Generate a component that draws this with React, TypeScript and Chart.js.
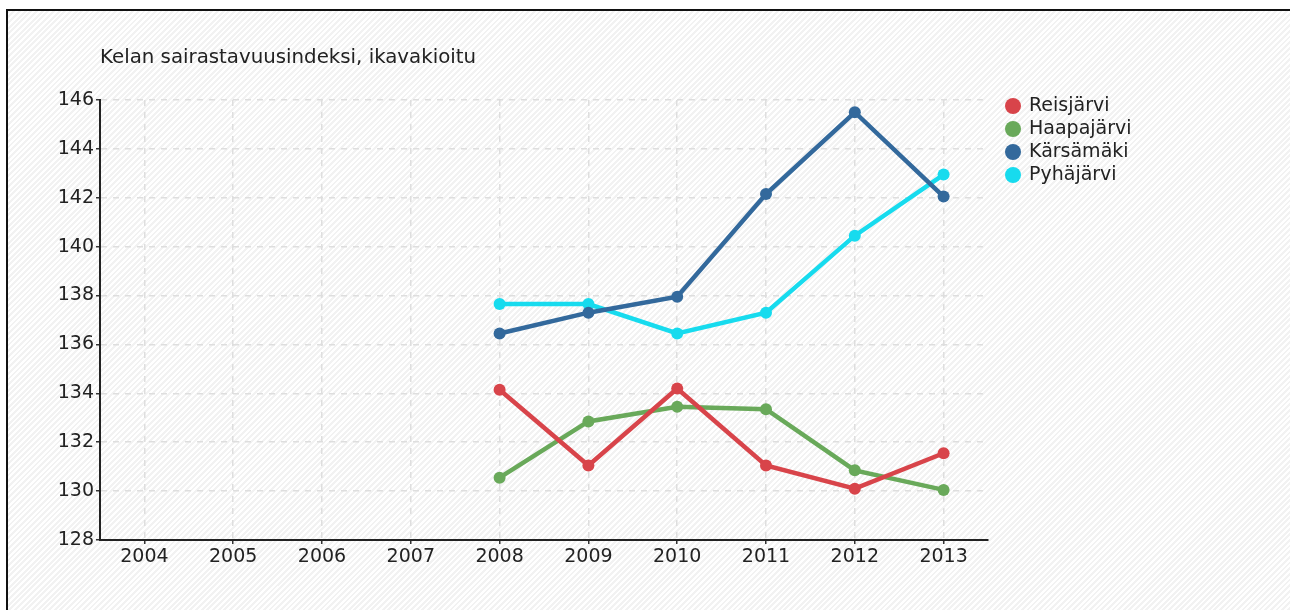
import React, { useEffect, useRef } from "react";
import { Chart, registerables } from "chart.js";

Chart.register(...registerables);

const titleText = "Kelan sairastavuusindeksi, ikavakioitu";
const years = ["2004", "2005", "2006", "2007", "2008", "2009", "2010", "2011", "2012", "2013"];
const reisjarvi = [null, null, null, null, 134.15, 131.05, 134.2, 131.05, 130.1, 131.55];
const haapajarvi = [null, null, null, null, 130.55, 132.85, 133.45, 133.35, 130.85, 130.05];
const karsamaki = [null, null, null, null, 136.45, 137.3, 137.95, 142.15, 145.5, 142.05];
const pyhajarvi = [null, null, null, null, 137.65, 137.65, 136.45, 137.3, 140.45, 142.95];
const seriesNames = ["Reisjärvi", "Haapajärvi", "Kärsämäki", "Pyhäjärvi"];
const seriesColors = ["#d8444a", "#69a95a", "#33699c", "#17dbee"];
const yMin = 128;
const yMax = 146;
const yStep = 2;

const FONT = "'DejaVu Sans', sans-serif";

const titlePlugin = {
  id: "titleText",
  afterDraw(chart: any) {
    const { ctx, chartArea } = chart;
    ctx.save();
    ctx.font = `19.8px ${FONT}`;
    ctx.fillStyle = "#222";
    ctx.textAlign = "left";
    ctx.textBaseline = "middle";
    ctx.fillText(titleText, chartArea.left, 58);
    ctx.restore();
  },
};

const legendPlugin = {
  id: "customLegend",
  afterDraw(chart: any) {
    const { ctx, chartArea } = chart;
    ctx.save();
    ctx.font = `19px ${FONT}`;
    ctx.textAlign = "left";
    ctx.textBaseline = "middle";
    chart.data.datasets.forEach((ds: any, i: number) => {
      const y = chartArea.top + 6 + i * 23;
      const cx = chartArea.right + 25;
      ctx.beginPath();
      ctx.fillStyle = ds.borderColor;
      ctx.arc(cx, y, 8, 0, Math.PI * 2);
      ctx.fill();
      ctx.fillStyle = "#222";
      ctx.fillText(ds.label, cx + 16, y);
    });
    ctx.restore();
  },
};

export default function App() {
  const canvasRef = useRef<HTMLCanvasElement | null>(null);

  useEffect(() => {
    if (!canvasRef.current) return;
    const seriesData = [reisjarvi, haapajarvi, karsamaki, pyhajarvi];
    const chart = new Chart(canvasRef.current, {
      type: "line",
      data: {
        labels: years,
        datasets: seriesNames.map((name, i) => ({
          label: name,
          data: seriesData[i],
          borderColor: seriesColors[i],
          backgroundColor: seriesColors[i],
          pointBackgroundColor: seriesColors[i],
          pointBorderColor: seriesColors[i],
          borderWidth: 4.5,
          pointRadius: 6,
          pointBorderWidth: 0,
          tension: 0,
          fill: false,
          spanGaps: false,
        })),
      },
      options: {
        responsive: false,
        animation: false,
        layout: { padding: { left: 0, top: 100, right: 302, bottom: 30 } },
        plugins: {
          legend: { display: false },
          tooltip: { enabled: false },
          title: { display: false },
        },
        scales: {
          x: {
            type: "category",
            offset: true,
            afterFit: (s: any) => {
              s.height = 40;
              s.paddingLeft = 0;
              s.paddingRight = 0;
            },
            grid: {
              offset: false,
              color: "#dedede",
              lineWidth: 1.5,
              drawTicks: true,
              tickLength: 4,
              tickColor: "#333",
              tickWidth: 1.5,
              tickBorderDash: [],
            },
            border: { display: true, color: "#222", width: 2, dash: [6, 6] },
            ticks: {
              color: "#222",
              font: { family: FONT, size: 19 },
              padding: 2,
              maxRotation: 0,
              autoSkip: false,
            },
          },
          y: {
            min: yMin,
            max: yMax,
            afterFit: (s: any) => {
              s.width = 100;
              s.paddingTop = 0;
              s.paddingBottom = 0;
            },
            grid: {
              color: "#dedede",
              lineWidth: 1.5,
              drawTicks: true,
              tickLength: 4,
              tickColor: "#333",
              tickWidth: 1.5,
              tickBorderDash: [],
            },
            border: { display: true, color: "#222", width: 2, dash: [6, 6] },
            ticks: {
              stepSize: yStep,
              color: "#222",
              font: { family: FONT, size: 19 },
              padding: 2,
            },
          },
        },
      },
      plugins: [titlePlugin, legendPlugin],
    } as any);
    return () => chart.destroy();
  }, []);

  return (
    <div
      style={{
        position: "fixed",
        left: 0,
        top: 0,
        width: 1290,
        height: 610,
        background: "#fff",
        overflow: "hidden",
      }}
    >
      <div
        style={{
          position: "absolute",
          left: 6,
          top: 9,
          width: 1290,
          height: 610,
          borderTop: "2px solid #111",
          borderLeft: "2px solid #111",
          background:
            "repeating-linear-gradient(-45deg, #ffffff 0px, #ffffff 2px, #f2f2f2 2px, #f2f2f2 4px)",
        }}
      />
      <canvas
        ref={canvasRef}
        width={1290}
        height={610}
        style={{ position: "absolute", left: 0, top: 0, width: 1290, height: 610 }}
      />
    </div>
  );
}
